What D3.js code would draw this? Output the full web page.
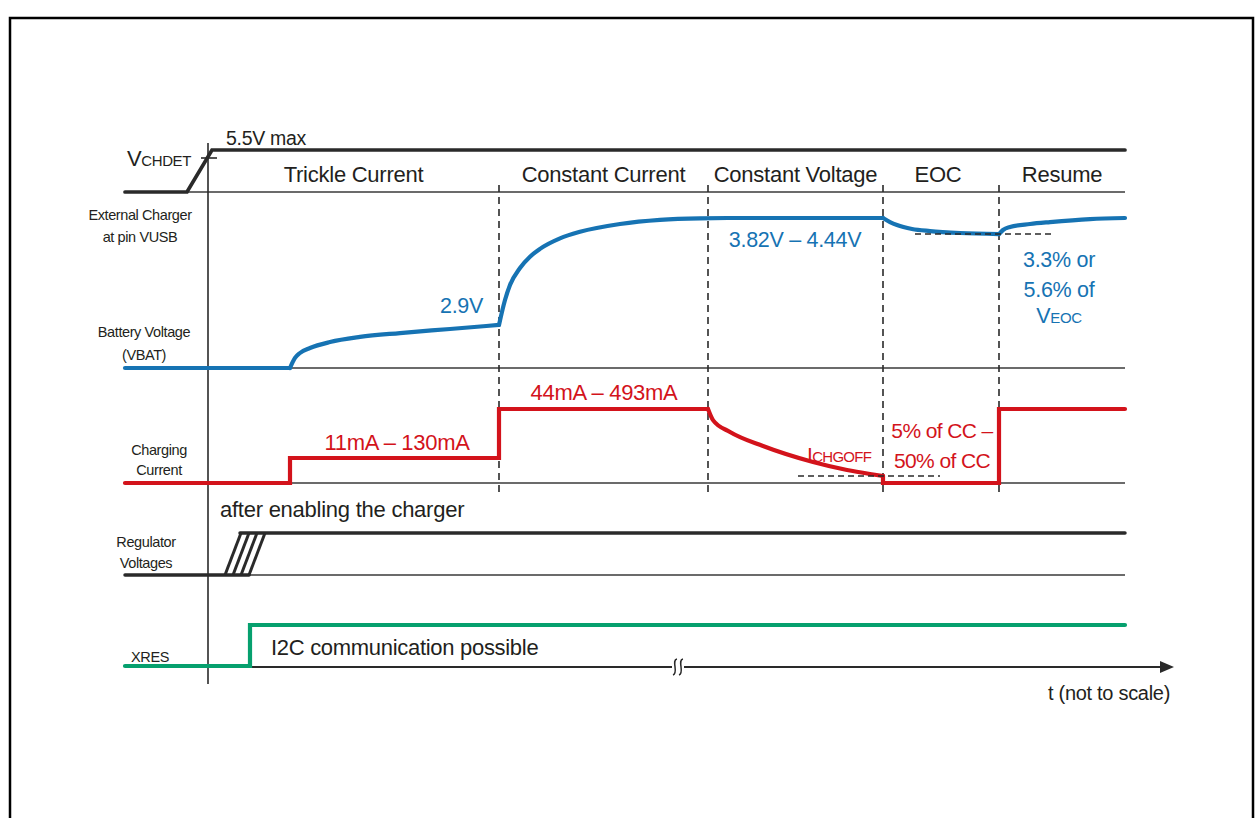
<!DOCTYPE html>
<html><head><meta charset="utf-8">
<script src="https://cdn.jsdelivr.net/npm/d3@7"></script>
<style>
body{margin:0;background:#fff}
svg{display:block}
text{font-family:"Liberation Sans",Arial,Helvetica,sans-serif;fill:#231f20}
</style>
</head><body>
<svg id="c" width="1257" height="818"></svg>
<script>
// ---------------- DATA (time units, not to scale; levels normalised per lane) ----------------
const phases      = ["Trickle Current","Constant Current","Constant Voltage","EOC","Resume"];
const phaseStarts = [0, 291, 500, 675, 791];
const tMin = -83, tMax = 917;

const vchdetT = [-83, -21, 4, 917];
const vchdetV = [0, 0, 1, 1];

const vbatLowT   = [-83, 82];
const vbatLowV   = [0, 0];
const vbatTrickT = [82, 87, 92, 102, 122, 152, 192, 242, 291];
const vbatTrickV = [0, 0.067, 0.1, 0.133, 0.173, 0.207, 0.233, 0.26, 0.287];
const vbatCCT    = [291, 297, 302, 312, 322, 332, 352, 372, 412, 452, 492, 530, 675];
const vbatCCV    = [0.287, 0.453, 0.553, 0.667, 0.742, 0.794, 0.864, 0.908, 0.960, 0.988, 0.998, 1.0, 1.0];
const vbatEocT   = [675, 682, 689, 704, 722, 752, 791];
const vbatEocV   = [1.0, 0.973, 0.953, 0.927, 0.913, 0.9, 0.893];
const vbatResT   = [791, 795, 802, 822, 842, 882, 917];
const vbatResV   = [0.893, 0.92, 0.94, 0.96, 0.973, 0.993, 1.0];
const vbatRechargeLevel = 0.893;

const ichgStepT  = [-83, 82, 82, 291, 291, 500];
const ichgStepV  = [0, 0, 0.338, 0.338, 1, 1];
const ichgDecT   = [500, 505, 522, 555, 605, 639, 662, 675];
const ichgDecV   = [1, 0.85, 0.69, 0.50, 0.284, 0.176, 0.122, 0.095];
const ichgEocT   = [675, 675, 791, 791, 917];
const ichgEocV   = [0.095, 0, 0, 1, 1];
const ichgOffLevel = 0.095;

const regLowT  = [-83, 41];
const regHighT = [32, 917];
const regRampBottomT = [17, 25, 33, 41];
const regRampTopT    = [33, 41, 49, 57];

const xresT = [-83, 42, 42, 917];
const xresV = [0, 0, 1, 1];

const labelsLeft = [
  ["External Charger","at pin VUSB"],
  ["Battery Voltage","(VBAT)"],
  ["Charging","Current"],
  ["Regulator","Voltages"],
  ["XRES"]
];
const vLabelCV   = "3.82V \u2013 4.44V";
const vLabelTr   = "2.9V";
const vLabelRes  = ["3.3% or","5.6% of"];
const iLabelTr   = "11mA \u2013 130mA";
const iLabelCC   = "44mA \u2013 493mA";
const iLabelEoc  = ["5% of CC \u2013","50% of CC"];

// ---------------- LAYOUT ----------------
const svg = d3.select("#c");
const BLUE="#1673b3", RED="#d3131b", GREEN="#06a06e", BLK="#2a2a2a", GRAY="#3a3a3a";
const FONT_BIG = 22;

const x = d3.scaleLinear().domain([tMin, tMax]).range([125, 1125]);
const yV  = d3.scaleLinear().domain([0,1]).range([192,150]);
const yB  = d3.scaleLinear().domain([0,1]).range([368,218]);
const yI  = d3.scaleLinear().domain([0,1]).range([483,409]);
const yR  = d3.scaleLinear().domain([0,1]).range([575,533]);
const yX  = d3.scaleLinear().domain([0,1]).range([666,625]);
const AXIS_X = x(0) , AXIS_Y = 667;

// frame
svg.append("path").attr("d","M10,820 V18 H1253 V820").attr("fill","none").attr("stroke","#000").attr("stroke-width",2.5);

function zip(T,V){ return T.map((t,i)=>[t,V[i]]); }
function draw(T,V,ys,color,w,curve){
  const line = d3.line().x(d=>x(d[0])).y(d=>ys(d[1])).curve(curve||d3.curveLinear);
  svg.append("path").attr("d",line(zip(T,V))).attr("fill","none").attr("stroke",color)
     .attr("stroke-width",w).attr("stroke-linecap","round").attr("stroke-linejoin","miter");
}
function hline(t0,t1,y,color,w,dash){
  const p=svg.append("line").attr("x1",x(t0)).attr("x2",x(t1)).attr("y1",y).attr("y2",y)
    .attr("stroke",color).attr("stroke-width",w);
  if(dash) p.attr("stroke-dasharray",dash);
  return p;
}

// thin baselines
hline(-21, tMax, yV(0), GRAY, 1.6);
hline(82, tMax, yB(0), GRAY, 1.6);
hline(82, tMax, yI(0), GRAY, 1.6);
hline(41, tMax, yR(0), GRAY, 1.6);

// vertical axis
svg.append("line").attr("x1",AXIS_X).attr("x2",AXIS_X).attr("y1",143).attr("y2",684).attr("stroke",BLK).attr("stroke-width",1.6);
// time axis with arrow
svg.append("line").attr("x1",AXIS_X).attr("x2",1163).attr("y1",AXIS_Y).attr("y2",AXIS_Y).attr("stroke",BLK).attr("stroke-width",1.8);
svg.append("path").attr("d",`M1160,${AXIS_Y-6} L1174,${AXIS_Y} L1160,${AXIS_Y+6}Z`).attr("fill",BLK);
// break mark
const bx = x(470);
svg.append("rect").attr("x",bx-6).attr("y",AXIS_Y-3).attr("width",12).attr("height",6).attr("fill","#fff");
[-3,3].forEach(o=>{
  svg.append("path").attr("d",`M${bx+o+2},${AXIS_Y-8} C${bx+o-4},${AXIS_Y-7} ${bx+o+4},${AXIS_Y+6} ${bx+o-2},${AXIS_Y+8}`)
    .attr("fill","none").attr("stroke",BLK).attr("stroke-width",1.5);
});
svg.append("text").attr("x",1170).attr("y",700).attr("text-anchor","end").attr("font-size",20).attr("letter-spacing",-0.3).text("t (not to scale)");

// phase dashed separators
phaseStarts.slice(1).forEach(t=>{
  svg.append("line").attr("x1",x(t)).attr("x2",x(t)).attr("y1",185).attr("y2",497)
    .attr("stroke",BLK).attr("stroke-width",1.6).attr("stroke-dasharray","7,5");
});
// phase labels
const phaseEnds = phaseStarts.slice(1).concat([tMax]);
phases.forEach((p,i)=>{
  svg.append("text").attr("x",(x(phaseStarts[i])+x(phaseEnds[i]))/2 + (i===3?-3:0)).attr("y",182)
    .attr("text-anchor","middle").attr("font-size",FONT_BIG).attr("letter-spacing",-0.25).text(p);
});

// VCHDET
draw(vchdetT, vchdetV, yV, BLK, 3.7);
svg.append("line").attr("x1",201).attr("x2",217).attr("y1",158).attr("y2",158).attr("stroke",BLK).attr("stroke-width",1.6);
const vt = svg.append("text").attr("x",127).attr("y",166).attr("font-size",22).attr("letter-spacing",-0.4);
vt.append("tspan").text("V");
vt.append("tspan").attr("font-size",15).text("CHDET");
svg.append("text").attr("x",226).attr("y",145).attr("font-size",19.5).attr("letter-spacing",-0.3).text("5.5V max");

// VBAT
draw(vbatLowT,vbatLowV,yB,BLUE,4.2);
draw(vbatTrickT,vbatTrickV,yB,BLUE,4.2,d3.curveMonotoneX);
draw(vbatCCT,vbatCCV,yB,BLUE,4.2,d3.curveMonotoneX);
draw(vbatEocT,vbatEocV,yB,BLUE,4.2,d3.curveMonotoneX);
draw(vbatResT,vbatResV,yB,BLUE,4.2,d3.curveMonotoneX);
hline(707, 847, yB(vbatRechargeLevel), BLK, 1.6, "6,4");
const blueText=(t,xx,yy,anchor)=>svg.append("text").attr("x",xx).attr("y",yy).attr("text-anchor",anchor||"middle")
   .attr("font-size",21.5).attr("letter-spacing",-0.3).style("fill",BLUE).text(t);
blueText(vLabelTr, 483, 313, "end");
blueText(vLabelCV, 795, 247);
blueText(vLabelRes[0], 1059, 267);
blueText(vLabelRes[1], 1059, 297);
const veoc = svg.append("text").attr("x",1059).attr("y",323).attr("text-anchor","middle").attr("font-size",21.5).attr("letter-spacing",-0.4).style("fill",BLUE);
veoc.append("tspan").text("V"); veoc.append("tspan").attr("font-size",15).text("EOC");

// Charging current
draw(ichgStepT,ichgStepV,yI,RED,4.2);
draw(ichgDecT,ichgDecV,yI,RED,4.2,d3.curveMonotoneX);
draw(ichgEocT,ichgEocV,yI,RED,4.2);
hline(590, 732, yI(ichgOffLevel), BLK, 1.6, "6,4");
const redText=(t,xx,yy,anchor,fs,ls)=>svg.append("text").attr("x",xx).attr("y",yy).attr("text-anchor",anchor||"middle")
   .attr("font-size",fs||FONT_BIG).attr("letter-spacing",ls==null?-0.3:ls).style("fill",RED).text(t);
redText(iLabelTr, 397, 450);
redText(iLabelCC, 604, 400);
redText(iLabelEoc[0], 942, 438, "middle", 21, -0.6);
redText(iLabelEoc[1], 942, 468, "middle", 21, -0.6);
const ioff = svg.append("text").attr("x",807).attr("y",462).attr("font-size",21).attr("letter-spacing",-0.7).style("fill",RED);
ioff.append("tspan").text("I"); ioff.append("tspan").attr("font-size",15).text("CHGOFF");

// Regulator voltages
hline(regLowT[0], regLowT[1], yR(0), BLK, 3.5).attr("stroke-linecap","round");
hline(regHighT[0], regHighT[1], yR(1), BLK, 3.5).attr("stroke-linecap","round");
regRampBottomT.forEach((tb,i)=>{
  svg.append("line").attr("x1",x(tb)).attr("y1",yR(0)).attr("x2",x(regRampTopT[i])).attr("y2",yR(1))
    .attr("stroke",BLK).attr("stroke-width",3);
});
svg.append("text").attr("x",220).attr("y",517).attr("font-size",FONT_BIG).attr("letter-spacing",-0.25).text("after enabling the charger");

// XRES
draw(xresT,xresV,yX,GREEN,4.2);
svg.append("text").attr("x",271).attr("y",655).attr("font-size",FONT_BIG).attr("letter-spacing",-0.3).text("I2C communication possible");

// left labels
const leftPos = [[140,[220,242]],[144,[337,360]],[159,[455,475]],[146,[547,568]],[150,[662]]];
labelsLeft.forEach((lines,i)=>{
  lines.forEach((l,j)=>{
    svg.append("text").attr("x",leftPos[i][0]).attr("y",leftPos[i][1][j]).attr("text-anchor","middle")
      .attr("font-size",14.5).attr("letter-spacing",-0.4).text(l);
  });
});
</script>
</body></html>
